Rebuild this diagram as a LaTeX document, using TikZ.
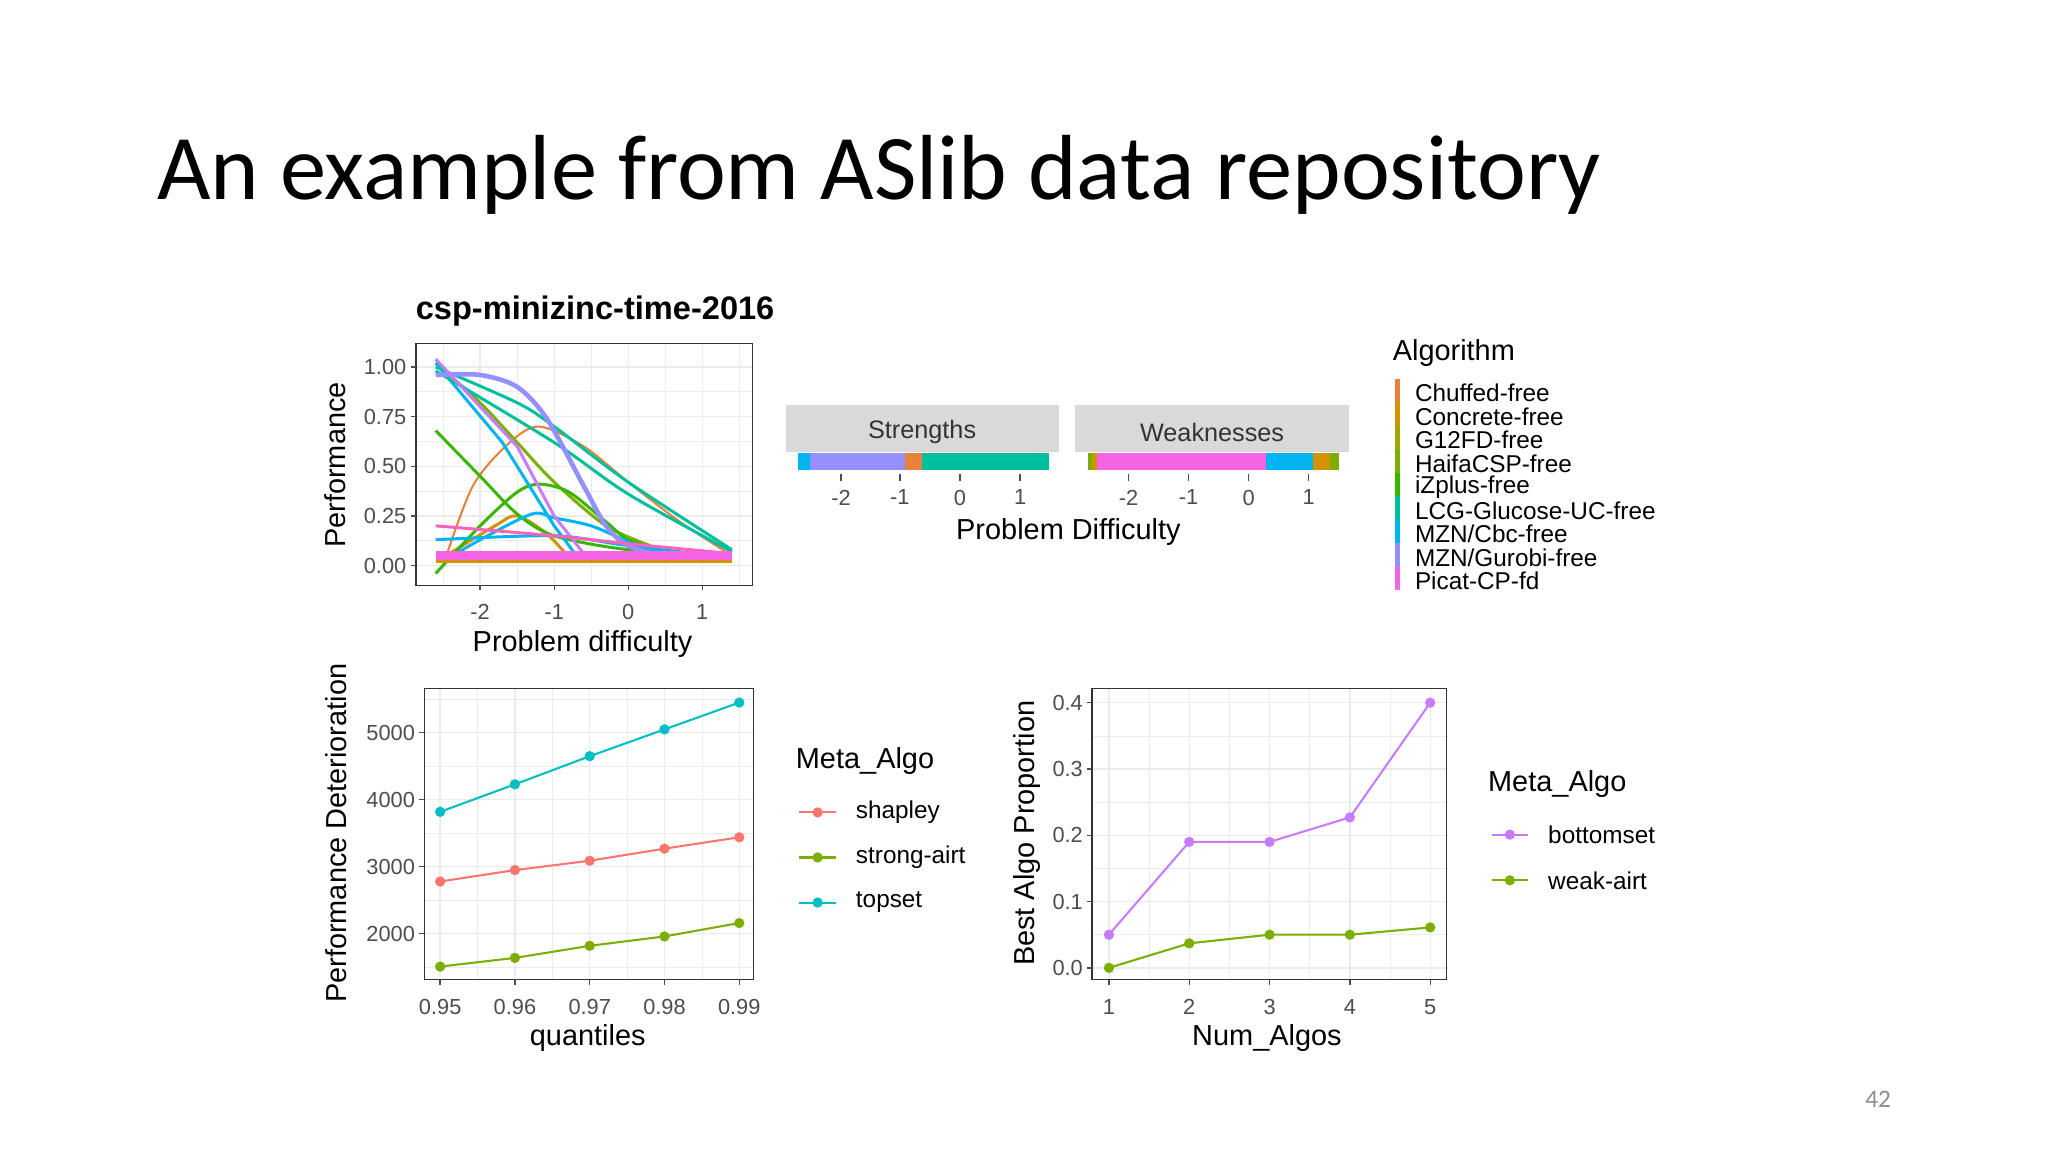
\documentclass[tikz,border=0pt]{standalone}
\usepackage{fontspec}
\setmainfont{Liberation Sans}
\newfontfamily\slidefont{Carlito}
\definecolor{gridc}{HTML}{EBEBEB}
\definecolor{cChuf}{HTML}{E8823A}
\definecolor{cConc}{HTML}{D39200}
\definecolor{cG12}{HTML}{A3A500}
\definecolor{cHaifa}{HTML}{7CAE00}
\definecolor{cIz}{HTML}{39B600}
\definecolor{cLCG}{HTML}{00BF9C}
\definecolor{cMZN}{HTML}{00B4EF}
\definecolor{cGur}{HTML}{9590FF}
\definecolor{cPic}{HTML}{F564E3}
\definecolor{cPink}{HTML}{FF62BC}
\definecolor{cShap}{HTML}{F8766D}
\definecolor{cTop}{HTML}{00BFC4}
\definecolor{cBot}{HTML}{C77CFF}
\definecolor{tickc}{HTML}{4D4D4D}
\tikzset{
  tick/.style={font=\fontsize{9.5}{10}\selectfont,text=tickc,inner sep=1pt},
  axtitle/.style={font=\fontsize{12.6}{14}\selectfont,inner sep=0pt},
  legtxt/.style={font=\fontsize{10.6}{12}\selectfont,anchor=west,inner sep=0pt},
  panel/.style={draw=black!80,line width=0.6pt},
  major/.style={draw=gridc,line width=0.6pt},
  minor/.style={draw=gridc,line width=0.3pt},
  curve/.style={line width=1.3pt},
  tk/.style={draw=tickc,line width=0.6pt},
  pt/.style={circle,inner sep=0pt,minimum size=4.5pt},
}
\begin{document}
\begin{tikzpicture}[x=0.02cm,y=-0.02cm]
\useasboundingbox[fill=white] (0,0) rectangle (1568,882);
\node[anchor=base west,inner sep=0pt,font=\slidefont\fontsize{40.3}{44}\selectfont] (title) at (120,153) {An example from ASlib data repository};
\node[inner sep=0pt,text=black!45,font=\slidefont\fontsize{11}{12}\selectfont] (pg) at (1438,842) {42};

% ---------- Top-left plot ----------
\node[anchor=west,inner sep=0pt,font=\bfseries\fontsize{14.2}{16}\selectfont] (t1) at (318,238) {csp-minizinc-time-2016};
\begin{scope}[shift={(481,433)},xscale=56.7,yscale=-152]
  \begin{scope}
  \clip (-2.868,1.118) rectangle (1.676,-0.099);
  \foreach \v in {0.125,0.375,0.625,0.875,1.125} \draw[minor] (-3,\v) -- (2,\v);
  \foreach \v in {-2.5,-1.5,-0.5,0.5,1.5} \draw[minor] (\v,-0.2) -- (\v,1.2);
  \foreach \v in {0,0.25,0.5,0.75,1} \draw[major] (-3,\v) -- (2,\v);
  \foreach \v in {-2,-1,0,1} \draw[major] (\v,-0.2) -- (\v,1.2);
  \draw[curve,cConc] plot[smooth] coordinates {(-2.5,0.04) (-1.8,0.2) (-1.5,0.25) (-1.1,0.16) (-0.8,0.04)};
  \draw[curve,cChuf,line width=0.9pt] plot[smooth] coordinates {(-2.5,0.0) (-2.1,0.4) (-1.6,0.62) (-1.2,0.7) (-0.6,0.6) (0,0.42) (0.7,0.22) (1.4,0.05)};
  \draw[curve,cHaifa] plot[smooth] coordinates {(-2.6,1.02) (-2,0.82) (-1.5,0.62) (-1,0.42) (-0.3,0.2) (0.3,0.1)};
  \draw[curve,cIz] plot[smooth] coordinates {(-2.6,0.68) (-2,0.45) (-1.5,0.26) (-1,0.15) (0,0.08) (1.4,0.05)};
  \draw[curve,cIz] plot[smooth] coordinates {(-2.6,-0.04) (-2,0.2) (-1.5,0.37) (-1.2,0.41) (-0.8,0.37) (-0.3,0.22) (0,0.13) (0.5,0.07)};
  \draw[curve,cMZN] plot[smooth] coordinates {(-2.5,0.02) (-2,0.13) (-1.3,0.26) (-1,0.24) (-0.5,0.2) (0,0.12) (0.5,0.05)};
  \draw[curve,cMZN] plot[smooth] coordinates {(-2.6,0.13) (-1,0.15) (0,0.1) (1.4,0.04)};
  \draw[curve,cMZN] plot coordinates {(-2.6,1.02) (-1.7,0.62) (-1,0.2) (-0.7,0.05)};
  \draw[curve,cLCG] plot[smooth] coordinates {(-2.6,1.0) (-1.5,0.82) (-1,0.7) (0,0.42) (1.4,0.08)};
  \draw[curve,cLCG] plot[smooth] coordinates {(-2.6,0.98) (-1,0.62) (0,0.36) (1.4,0.07)};
  \draw[curve,cGur,line width=2pt] plot[smooth] coordinates {(-2.6,0.96) (-2,0.96) (-1.5,0.9) (-1.1,0.74) (-0.6,0.4) (-0.3,0.2) (0,0.1) (0.5,0.05) (1.4,0.04)};
  \draw[curve,cBot] plot coordinates {(-2.6,1.04) (-1.5,0.6) (-1,0.25) (-0.6,0.06) (1.4,0.04)};
  \draw[curve,cPink] plot[smooth] coordinates {(-2.6,0.2) (-1,0.15) (0,0.11) (1.4,0.06)};
  \draw[cConc,line width=3pt] (-2.6,0.03) -- (1.4,0.03);
  \draw[cPic,line width=4pt] (-2.6,0.05) -- (1.4,0.05);
  \end{scope}
  \draw[panel] (-2.868,1.118) rectangle (1.676,-0.099);
  \foreach \v/\l in {0/0.00,0.25/0.25,0.5/0.50,0.75/0.75,1/1.00} {
    \draw[tk] (-2.868,\v) -- (-2.94,\v);
    \node[tick,anchor=east] at (-2.96,\v) {\l};}
  \foreach \v in {-2,-1,0,1} {
    \draw[tk] (\v,-0.099) -- (\v,-0.125);
    \node[tick,anchor=north] at (\v,-0.18) {\v};}
\end{scope}
\node[axtitle] (x1) at (446,493) {Problem difficulty};
\node[axtitle,rotate=90] (y1) at (257,356) {Performance};

% ---------- Strengths / Weaknesses ----------
\fill[gray!30] (602,310) rectangle (811,346);
\node[font=\fontsize{11}{12}\selectfont,text=black!80] (str) at (706,331) {Strengths};
\fill[gray!30] (823,310) rectangle (1033,346);
\node[font=\fontsize{11}{12}\selectfont,text=black!80] (weak) at (928,331) {Weaknesses};
\fill[cMZN] (611,347) rectangle (620,360);
\fill[cGur] (620,347) rectangle (693,360);
\fill[cChuf] (693,347) rectangle (706,360);
\fill[cLCG] (706,347) rectangle (803,360);
\fill[cHaifa] (833,347) rectangle (836,360);
\fill[cConc] (836,347) rectangle (840,360);
\fill[cPic] (840,347) rectangle (969,360);
\fill[cMZN] (969,347) rectangle (1005,360);
\fill[cConc] (1005,347) rectangle (1018,360);
\fill[cHaifa] (1018,347) rectangle (1025,360);
\foreach \x/\l in {644/-2,689/-1,735/0,781/1,864/-2,910/-1,956/0,1002/1} {
  \draw[tk] (\x,363) -- (\x,368);
  \node[tick,anchor=north] at (\x,373) {\l};}
\node[axtitle] (x2) at (818,407) {Problem Difficulty};

% ---------- Algorithm legend ----------
\node[axtitle,anchor=west] (alg) at (1066,270) {Algorithm};
\foreach \c/\t [count=\i from 0] in {cChuf/{Chuffed-free},cConc/{Concrete-free},cG12/{G12FD-free},cHaifa/{HaifaCSP-free},cIz/{iZplus-free},cLCG/{LCG-Glucose-UC-free},cMZN/{MZN/Cbc-free},cGur/{MZN/Gurobi-free},cPic/{Picat-CP-fd}} {
  \fill[\c] (1068,{290+18*\i}) rectangle (1072,{290+18*(\i+1)});
  \node[legtxt] at (1083,{301+18*\i}) {\t};}

% ---------- Bottom-left plot ----------
\begin{scope}[shift={(337,561)},xscale=57.25,yscale=-51.3]
  \begin{scope}
  \clip (-0.21,0.66) rectangle (4.19,-3.68);
  \foreach \v in {-3.5,-2.5,-1.5,-0.5,0.5} \draw[minor] (-1,\v) -- (5,\v);
  \foreach \v in {0.5,1.5,2.5,3.5} \draw[minor] (\v,-4) -- (\v,1);
  \foreach \v in {-3,-2,-1,0} \draw[major] (-1,\v) -- (5,\v);
  \foreach \v in {0,1,2,3,4} \draw[major] (\v,-4) -- (\v,1);
  \draw[cTop,line width=0.9pt] (0,-1.18) -- (1,-0.77) -- (2,-0.35) -- (3,0.05) -- (4,0.45);
  \foreach \x/\y in {0/-1.18,1/-0.77,2/-0.35,3/0.05,4/0.45} \node[pt,fill=cTop] at (\x,\y) {};
  \draw[cShap,line width=0.9pt] (0,-2.22) -- (1,-2.05) -- (2,-1.91) -- (3,-1.73) -- (4,-1.56);
  \foreach \x/\y in {0/-2.22,1/-2.05,2/-1.91,3/-1.73,4/-1.56} \node[pt,fill=cShap] at (\x,\y) {};
  \draw[cHaifa,line width=0.9pt] (0,-3.49) -- (1,-3.36) -- (2,-3.18) -- (3,-3.04) -- (4,-2.84);
  \foreach \x/\y in {0/-3.49,1/-3.36,2/-3.18,3/-3.04,4/-2.84} \node[pt,fill=cHaifa] at (\x,\y) {};
  \end{scope}
  \draw[panel] (-0.21,0.66) rectangle (4.19,-3.68);
  \foreach \v/\l in {0/5000,-1/4000,-2/3000,-3/2000} {
    \draw[tk] (-0.21,\v) -- (-0.28,\v);
    \node[tick,anchor=east] at (-0.3,\v) {\l};}
  \foreach \v/\l in {0/0.95,1/0.96,2/0.97,3/0.98,4/0.99} {
    \draw[tk] (\v,-3.68) -- (\v,-3.76);
    \node[tick,anchor=north] at (\v,-3.94) {\l};}
\end{scope}
\node[axtitle] (x3) at (450,795) {quantiles};
\node[axtitle,rotate=90] (y3) at (257,638) {Performance Deterioration};
\node[axtitle,anchor=west] (ma1) at (609,583) {Meta\_Algo};
\foreach \c/\t [count=\i from 0] in {cShap/shapley,cHaifa/strong-airt,cTop/topset} {
  \draw[\c,line width=0.9pt] (612,{622+34.5*\i}) -- (640,{622+34.5*\i});
  \node[pt,fill=\c] at (626,{622+34.5*\i}) {};
  \node[legtxt] at (655,{622+34.5*\i}) {\t};}

% ---------- Bottom-right plot ----------
\begin{scope}[shift={(849,741)},xscale=61.5,yscale=-507.5]
  \begin{scope}
  \clip (-0.21,0.4217) rectangle (4.2,-0.0177);
  \foreach \v in {0.05,0.15,0.25,0.35} \draw[minor] (-1,\v) -- (5,\v);
  \foreach \v in {0.5,1.5,2.5,3.5} \draw[minor] (\v,-1) -- (\v,1);
  \foreach \v in {0,0.1,0.2,0.3,0.4} \draw[major] (-1,\v) -- (5,\v);
  \foreach \v in {0,1,2,3,4} \draw[major] (\v,-1) -- (\v,1);
  \draw[cBot,line width=0.9pt] (0,0.05) -- (1,0.19) -- (2,0.19) -- (3,0.227) -- (4,0.4);
  \foreach \x/\y in {0/0.05,1/0.19,2/0.19,3/0.227,4/0.4} \node[pt,fill=cBot] at (\x,\y) {};
  \draw[cHaifa,line width=0.9pt] (0,0) -- (1,0.037) -- (2,0.05) -- (3,0.05) -- (4,0.061);
  \foreach \x/\y in {0/0,1/0.037,2/0.05,3/0.05,4/0.061} \node[pt,fill=cHaifa] at (\x,\y) {};
  \end{scope}
  \draw[panel] (-0.21,0.4217) rectangle (4.2,-0.0177);
  \foreach \v/\l in {0/0.0,0.1/0.1,0.2/0.2,0.3/0.3,0.4/0.4} {
    \draw[tk] (-0.21,\v) -- (-0.275,\v);
    \node[tick,anchor=east] at (-0.29,\v) {\l};}
  \foreach \v/\l in {0/1,1/2,2/3,3/4,4/5} {
    \draw[tk] (\v,-0.0177) -- (\v,-0.026);
    \node[tick,anchor=north] at (\v,-0.044) {\l};}
\end{scope}
\node[axtitle] (x4) at (970,795) {Num\_Algos};
\node[axtitle,rotate=90] (y4) at (786,638) {Best Algo Proportion};
\node[axtitle,anchor=west] (ma2) at (1139,600) {Meta\_Algo};
\foreach \c/\t [count=\i from 0] in {cBot/bottomset,cHaifa/weak-airt} {
  \draw[\c,line width=0.9pt] (1142,{639+35*\i}) -- (1170,{639+35*\i});
  \node[pt,fill=\c] at (1156,{639+35*\i}) {};
  \node[legtxt] at (1185,{639+35*\i}) {\t};}
\end{tikzpicture}
\end{document}
